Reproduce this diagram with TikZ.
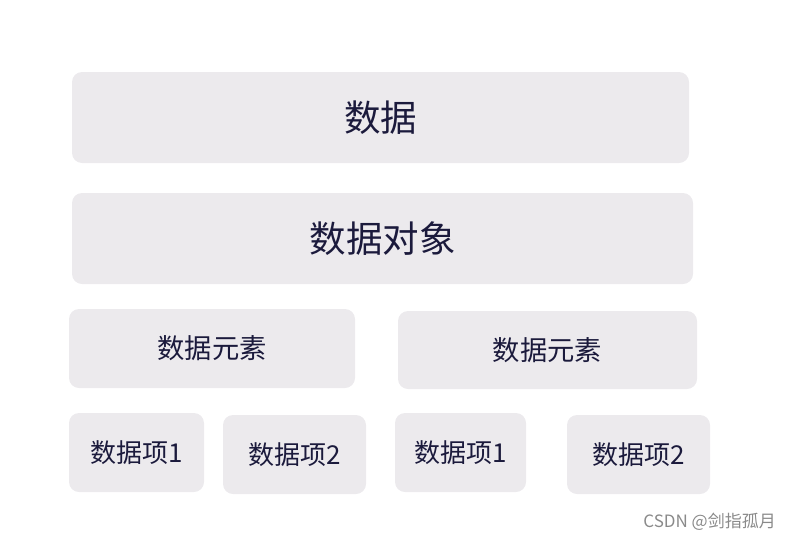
\documentclass[tikz,border=0pt]{standalone}
\usepackage{fontspec}
\setmainfont{Noto Sans CJK SC}
\definecolor{boxfill}{HTML}{ECEAED}
\definecolor{boxtext}{HTML}{1B1A3C}
\definecolor{markgray}{HTML}{8A8A8A}

\begin{document}
\begin{tikzpicture}[
    x=1pt, y=-1pt,
    box/.style={fill=boxfill, text=boxtext, rounded corners=10pt, inner sep=0pt, anchor=center},
    bigtxt/.style={font=\fontsize{36.5}{40}\selectfont},
    midtxt/.style={font=\fontsize{27.3}{30}\selectfont},
    smalltxt/.style={font=\fontsize{26}{30}\selectfont}
  ]
  \useasboundingbox (0,0) rectangle (789,541);

  % Top levels
  \node[box, bigtxt, minimum width=617pt, minimum height=91pt] (data) at (380.5,117.5) {数据};
  \node[box, bigtxt, minimum width=621pt, minimum height=91pt] (dataobj) at (382.5,238.5) {数据对象};

  % Data elements
  \node[box, midtxt, minimum width=286pt, minimum height=79pt] (elemA) at (212,348.5) {数据元素};
  \node[box, midtxt, minimum width=299pt, minimum height=78pt] (elemB) at (547.5,350) {数据元素};

  % Data items
  \node[box, smalltxt, minimum width=135pt, minimum height=79pt] (itemA1) at (136.5,452.5) {数据项1};
  \node[box, smalltxt, minimum width=143pt, minimum height=79pt] (itemA2) at (294.5,454.5) {数据项2};
  \node[box, smalltxt, minimum width=131pt, minimum height=79pt] (itemB1) at (460.5,452.5) {数据项1};
  \node[box, smalltxt, minimum width=143pt, minimum height=79pt] (itemB2) at (638.5,454.5) {数据项2};

  % Watermark
  \node[text=markgray, font=\fontsize{17}{20}\selectfont, anchor=east, inner sep=0pt] (mark) at (776,522) {CSDN @剑指孤月};
\end{tikzpicture}
\end{document}
